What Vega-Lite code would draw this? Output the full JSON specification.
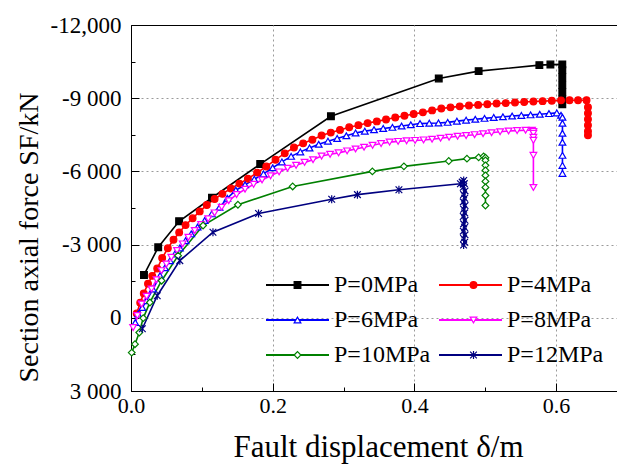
{
"$schema": "https://vega.github.io/schema/vega-lite/v6.json",
"width": 486, "height": 366,
"autosize": {"type": "none"},
"padding": {"left": 131, "top": 25, "right": 0, "bottom": 73},
"background": "white",
"config": {
  "view": {"stroke": "black", "strokeWidth": 1},
  "font": "Liberation Serif",
  "axis": {"domainColor": "black", "domainWidth": 1, "tickColor": "black", "labelColor": "black", "titleColor": "black",
           "labelFont": "Liberation Serif", "titleFont": "Liberation Serif", "titleFontWeight": "normal",
           "gridColor": "#9a9a9a", "gridDash": [2, 3], "gridWidth": 1}
},
"data": {"values": [
{"s":"P=0MPa","p":0,"i":1,"x":0.0183,"y":-1755},{"s":"P=0MPa","p":0,"i":2,"x":0.0384,"y":-2889},{"s":"P=0MPa","p":0,"i":3,"x":0.0679,"y":-3958},{"s":"P=0MPa","p":0,"i":4,"x":0.1143,"y":-4920},{"s":"P=0MPa","p":0,"i":5,"x":0.1824,"y":-6301},{"s":"P=0MPa","p":0,"i":6,"x":0.2822,"y":-8261},{"s":"P=0MPa","p":0,"i":7,"x":0.4344,"y":-9810},{"s":"P=0MPa","p":0,"i":8,"x":0.4907,"y":-10111},{"s":"P=0MPa","p":0,"i":9,"x":0.5764,"y":-10357},{"s":"P=0MPa","p":0,"i":10,"x":0.592,"y":-10378},{"s":"P=0MPa","p":0,"i":11,"x":0.6088,"y":-10386},{"s":"P=0MPa","p":0,"i":12,"x":0.6088,"y":-10150},{"s":"P=0MPa","p":0,"i":13,"x":0.6088,"y":-9860},{"s":"P=0MPa","p":0,"i":14,"x":0.6088,"y":-9540},{"s":"P=0MPa","p":0,"i":15,"x":0.6088,"y":-9250},{"s":"P=0MPa","p":0,"i":16,"x":0.6088,"y":-8950},{"s":"P=0MPa","p":0,"i":17,"x":0.6088,"y":-8750},

{"s":"P=4MPa","p":4,"i":1,"x":0.008,"y":-177},{"s":"P=4MPa","p":4,"i":2,"x":0.013,"y":-620},{"s":"P=4MPa","p":4,"i":3,"x":0.018,"y":-1000},{"s":"P=4MPa","p":4,"i":4,"x":0.024,"y":-1400},{"s":"P=4MPa","p":4,"i":5,"x":0.030,"y":-1720},{"s":"P=4MPa","p":4,"i":6,"x":0.037,"y":-2020},{"s":"P=4MPa","p":4,"i":7,"x":0.044,"y":-2450},{"s":"P=4MPa","p":4,"i":8,"x":0.052,"y":-2850},{"s":"P=4MPa","p":4,"i":9,"x":0.060,"y":-3200},{"s":"P=4MPa","p":4,"i":10,"x":0.068,"y":-3500},{"s":"P=4MPa","p":4,"i":11,"x":0.077,"y":-3800},{"s":"P=4MPa","p":4,"i":12,"x":0.087,"y":-4080},{"s":"P=4MPa","p":4,"i":13,"x":0.097,"y":-4360},{"s":"P=4MPa","p":4,"i":14,"x":0.107,"y":-4620},{"s":"P=4MPa","p":4,"i":15,"x":0.118,"y":-4870},{"s":"P=4MPa","p":4,"i":16,"x":0.129,"y":-5080},{"s":"P=4MPa","p":4,"i":17,"x":0.141,"y":-5300},{"s":"P=4MPa","p":4,"i":18,"x":0.153,"y":-5500},{"s":"P=4MPa","p":4,"i":19,"x":0.165,"y":-5700},{"s":"P=4MPa","p":4,"i":20,"x":0.178,"y":-5950},{"s":"P=4MPa","p":4,"i":21,"x":0.191,"y":-6200},{"s":"P=4MPa","p":4,"i":22,"x":0.204,"y":-6480},{"s":"P=4MPa","p":4,"i":23,"x":0.217,"y":-6740},{"s":"P=4MPa","p":4,"i":24,"x":0.230,"y":-6980},{"s":"P=4MPa","p":4,"i":25,"x":0.243,"y":-7150},{"s":"P=4MPa","p":4,"i":26,"x":0.256,"y":-7300},{"s":"P=4MPa","p":4,"i":27,"x":0.269,"y":-7470},{"s":"P=4MPa","p":4,"i":28,"x":0.282,"y":-7590},{"s":"P=4MPa","p":4,"i":29,"x":0.295,"y":-7700},{"s":"P=4MPa","p":4,"i":30,"x":0.308,"y":-7810},{"s":"P=4MPa","p":4,"i":31,"x":0.321,"y":-7895},{"s":"P=4MPa","p":4,"i":32,"x":0.334,"y":-7980},{"s":"P=4MPa","p":4,"i":33,"x":0.347,"y":-8050},{"s":"P=4MPa","p":4,"i":34,"x":0.360,"y":-8130},{"s":"P=4MPa","p":4,"i":35,"x":0.373,"y":-8210},{"s":"P=4MPa","p":4,"i":36,"x":0.386,"y":-8280},{"s":"P=4MPa","p":4,"i":37,"x":0.399,"y":-8350},{"s":"P=4MPa","p":4,"i":38,"x":0.412,"y":-8420},{"s":"P=4MPa","p":4,"i":39,"x":0.425,"y":-8500},{"s":"P=4MPa","p":4,"i":40,"x":0.438,"y":-8575},{"s":"P=4MPa","p":4,"i":41,"x":0.451,"y":-8625},{"s":"P=4MPa","p":4,"i":42,"x":0.464,"y":-8665},{"s":"P=4MPa","p":4,"i":43,"x":0.477,"y":-8700},{"s":"P=4MPa","p":4,"i":44,"x":0.490,"y":-8725},{"s":"P=4MPa","p":4,"i":45,"x":0.503,"y":-8755},{"s":"P=4MPa","p":4,"i":46,"x":0.516,"y":-8780},{"s":"P=4MPa","p":4,"i":47,"x":0.529,"y":-8800},{"s":"P=4MPa","p":4,"i":48,"x":0.542,"y":-8825},{"s":"P=4MPa","p":4,"i":49,"x":0.555,"y":-8845},{"s":"P=4MPa","p":4,"i":50,"x":0.568,"y":-8862},{"s":"P=4MPa","p":4,"i":51,"x":0.581,"y":-8880},{"s":"P=4MPa","p":4,"i":52,"x":0.594,"y":-8898},{"s":"P=4MPa","p":4,"i":53,"x":0.607,"y":-8912},{"s":"P=4MPa","p":4,"i":54,"x":0.619,"y":-8919},{"s":"P=4MPa","p":4,"i":55,"x":0.631,"y":-8919},{"s":"P=4MPa","p":4,"i":56,"x":0.643,"y":-8919},{"s":"P=4MPa","p":4,"i":57,"x":0.645,"y":-8631},{"s":"P=4MPa","p":4,"i":58,"x":0.645,"y":-8384},{"s":"P=4MPa","p":4,"i":59,"x":0.645,"y":-8138},{"s":"P=4MPa","p":4,"i":60,"x":0.645,"y":-7891},{"s":"P=4MPa","p":4,"i":61,"x":0.645,"y":-7645},{"s":"P=4MPa","p":4,"i":62,"x":0.645,"y":-7480},

{"s":"P=6MPa","p":6,"i":1,"x":0.006,"y":193},{"s":"P=6MPa","p":6,"i":2,"x":0.010,"y":-152},{"s":"P=6MPa","p":6,"i":3,"x":0.016,"y":-420},{"s":"P=6MPa","p":6,"i":4,"x":0.022,"y":-700},{"s":"P=6MPa","p":6,"i":5,"x":0.031,"y":-1180},{"s":"P=6MPa","p":6,"i":6,"x":0.041,"y":-1726},{"s":"P=6MPa","p":6,"i":7,"x":0.048,"y":-2050},{"s":"P=6MPa","p":6,"i":8,"x":0.055,"y":-2343},{"s":"P=6MPa","p":6,"i":9,"x":0.062,"y":-2620},{"s":"P=6MPa","p":6,"i":10,"x":0.069,"y":-2865},{"s":"P=6MPa","p":6,"i":11,"x":0.077,"y":-3160},{"s":"P=6MPa","p":6,"i":12,"x":0.085,"y":-3440},{"s":"P=6MPa","p":6,"i":13,"x":0.094,"y":-3720},{"s":"P=6MPa","p":6,"i":14,"x":0.104,"y":-3987},{"s":"P=6MPa","p":6,"i":15,"x":0.114,"y":-4260},{"s":"P=6MPa","p":6,"i":16,"x":0.125,"y":-4533},{"s":"P=6MPa","p":6,"i":17,"x":0.136,"y":-4900},{"s":"P=6MPa","p":6,"i":18,"x":0.148,"y":-5230},{"s":"P=6MPa","p":6,"i":19,"x":0.161,"y":-5450},{"s":"P=6MPa","p":6,"i":20,"x":0.174,"y":-5680},{"s":"P=6MPa","p":6,"i":21,"x":0.187,"y":-5900},{"s":"P=6MPa","p":6,"i":22,"x":0.200,"y":-6150},{"s":"P=6MPa","p":6,"i":23,"x":0.213,"y":-6390},{"s":"P=6MPa","p":6,"i":24,"x":0.226,"y":-6617},{"s":"P=6MPa","p":6,"i":25,"x":0.239,"y":-6800},{"s":"P=6MPa","p":6,"i":26,"x":0.252,"y":-6960},{"s":"P=6MPa","p":6,"i":27,"x":0.265,"y":-7110},{"s":"P=6MPa","p":6,"i":28,"x":0.278,"y":-7240},{"s":"P=6MPa","p":6,"i":29,"x":0.291,"y":-7350},{"s":"P=6MPa","p":6,"i":30,"x":0.304,"y":-7460},{"s":"P=6MPa","p":6,"i":31,"x":0.317,"y":-7575},{"s":"P=6MPa","p":6,"i":32,"x":0.330,"y":-7650},{"s":"P=6MPa","p":6,"i":33,"x":0.343,"y":-7710},{"s":"P=6MPa","p":6,"i":34,"x":0.356,"y":-7760},{"s":"P=6MPa","p":6,"i":35,"x":0.369,"y":-7805},{"s":"P=6MPa","p":6,"i":36,"x":0.382,"y":-7860},{"s":"P=6MPa","p":6,"i":37,"x":0.395,"y":-7910},{"s":"P=6MPa","p":6,"i":38,"x":0.408,"y":-7960},{"s":"P=6MPa","p":6,"i":39,"x":0.421,"y":-7975},{"s":"P=6MPa","p":6,"i":40,"x":0.434,"y":-7985},{"s":"P=6MPa","p":6,"i":41,"x":0.447,"y":-8010},{"s":"P=6MPa","p":6,"i":42,"x":0.460,"y":-8060},{"s":"P=6MPa","p":6,"i":43,"x":0.473,"y":-8100},{"s":"P=6MPa","p":6,"i":44,"x":0.486,"y":-8138},{"s":"P=6MPa","p":6,"i":45,"x":0.499,"y":-8175},{"s":"P=6MPa","p":6,"i":46,"x":0.512,"y":-8210},{"s":"P=6MPa","p":6,"i":47,"x":0.525,"y":-8240},{"s":"P=6MPa","p":6,"i":48,"x":0.538,"y":-8270},{"s":"P=6MPa","p":6,"i":49,"x":0.551,"y":-8295},{"s":"P=6MPa","p":6,"i":50,"x":0.564,"y":-8318},{"s":"P=6MPa","p":6,"i":51,"x":0.577,"y":-8340},{"s":"P=6MPa","p":6,"i":52,"x":0.590,"y":-8370},{"s":"P=6MPa","p":6,"i":53,"x":0.601,"y":-8397},{"s":"P=6MPa","p":6,"i":54,"x":0.607,"y":-8302},{"s":"P=6MPa","p":6,"i":55,"x":0.609,"y":-8220},{"s":"P=6MPa","p":6,"i":56,"x":0.609,"y":-7973},{"s":"P=6MPa","p":6,"i":57,"x":0.609,"y":-7562},{"s":"P=6MPa","p":6,"i":58,"x":0.609,"y":-7192},{"s":"P=6MPa","p":6,"i":59,"x":0.609,"y":-6658},{"s":"P=6MPa","p":6,"i":60,"x":0.609,"y":-6247},{"s":"P=6MPa","p":6,"i":61,"x":0.609,"y":-5919},

{"s":"P=8MPa","p":8,"i":1,"x":0.003,"y":399},{"s":"P=8MPa","p":8,"i":2,"x":0.009,"y":-90},{"s":"P=8MPa","p":8,"i":3,"x":0.015,"y":-563},{"s":"P=8MPa","p":8,"i":4,"x":0.022,"y":-880},{"s":"P=8MPa","p":8,"i":5,"x":0.029,"y":-1180},{"s":"P=8MPa","p":8,"i":6,"x":0.036,"y":-1560},{"s":"P=8MPa","p":8,"i":7,"x":0.043,"y":-1932},{"s":"P=8MPa","p":8,"i":8,"x":0.050,"y":-2200},{"s":"P=8MPa","p":8,"i":9,"x":0.057,"y":-2478},{"s":"P=8MPa","p":8,"i":10,"x":0.065,"y":-2760},{"s":"P=8MPa","p":8,"i":11,"x":0.073,"y":-3029},{"s":"P=8MPa","p":8,"i":12,"x":0.081,"y":-3300},{"s":"P=8MPa","p":8,"i":13,"x":0.090,"y":-3576},{"s":"P=8MPa","p":8,"i":14,"x":0.099,"y":-3820},{"s":"P=8MPa","p":8,"i":15,"x":0.109,"y":-4057},{"s":"P=8MPa","p":8,"i":16,"x":0.118,"y":-4300},{"s":"P=8MPa","p":8,"i":17,"x":0.128,"y":-4533},{"s":"P=8MPa","p":8,"i":18,"x":0.138,"y":-4800},{"s":"P=8MPa","p":8,"i":19,"x":0.149,"y":-5050},{"s":"P=8MPa","p":8,"i":20,"x":0.161,"y":-5270},{"s":"P=8MPa","p":8,"i":21,"x":0.173,"y":-5470},{"s":"P=8MPa","p":8,"i":22,"x":0.185,"y":-5650},{"s":"P=8MPa","p":8,"i":23,"x":0.197,"y":-5820},{"s":"P=8MPa","p":8,"i":24,"x":0.209,"y":-5980},{"s":"P=8MPa","p":8,"i":25,"x":0.221,"y":-6130},{"s":"P=8MPa","p":8,"i":26,"x":0.233,"y":-6250},{"s":"P=8MPa","p":8,"i":27,"x":0.245,"y":-6370},{"s":"P=8MPa","p":8,"i":28,"x":0.257,"y":-6480},{"s":"P=8MPa","p":8,"i":29,"x":0.269,"y":-6630},{"s":"P=8MPa","p":8,"i":30,"x":0.281,"y":-6700},{"s":"P=8MPa","p":8,"i":31,"x":0.293,"y":-6760},{"s":"P=8MPa","p":8,"i":32,"x":0.305,"y":-6840},{"s":"P=8MPa","p":8,"i":33,"x":0.317,"y":-6920},{"s":"P=8MPa","p":8,"i":34,"x":0.329,"y":-6990},{"s":"P=8MPa","p":8,"i":35,"x":0.341,"y":-7070},{"s":"P=8MPa","p":8,"i":36,"x":0.353,"y":-7140},{"s":"P=8MPa","p":8,"i":37,"x":0.365,"y":-7200},{"s":"P=8MPa","p":8,"i":38,"x":0.377,"y":-7230},{"s":"P=8MPa","p":8,"i":39,"x":0.389,"y":-7255},{"s":"P=8MPa","p":8,"i":40,"x":0.401,"y":-7270},{"s":"P=8MPa","p":8,"i":41,"x":0.413,"y":-7290},{"s":"P=8MPa","p":8,"i":42,"x":0.425,"y":-7320},{"s":"P=8MPa","p":8,"i":43,"x":0.437,"y":-7360},{"s":"P=8MPa","p":8,"i":44,"x":0.449,"y":-7400},{"s":"P=8MPa","p":8,"i":45,"x":0.461,"y":-7440},{"s":"P=8MPa","p":8,"i":46,"x":0.473,"y":-7470},{"s":"P=8MPa","p":8,"i":47,"x":0.485,"y":-7505},{"s":"P=8MPa","p":8,"i":48,"x":0.497,"y":-7545},{"s":"P=8MPa","p":8,"i":49,"x":0.509,"y":-7585},{"s":"P=8MPa","p":8,"i":50,"x":0.521,"y":-7625},{"s":"P=8MPa","p":8,"i":51,"x":0.533,"y":-7657},{"s":"P=8MPa","p":8,"i":52,"x":0.545,"y":-7672},{"s":"P=8MPa","p":8,"i":53,"x":0.557,"y":-7686},{"s":"P=8MPa","p":8,"i":54,"x":0.566,"y":-7686},{"s":"P=8MPa","p":8,"i":55,"x":0.568,"y":-7640},{"s":"P=8MPa","p":8,"i":56,"x":0.568,"y":-7562},{"s":"P=8MPa","p":8,"i":57,"x":0.568,"y":-7398},{"s":"P=8MPa","p":8,"i":58,"x":0.568,"y":-7275},{"s":"P=8MPa","p":8,"i":59,"x":0.568,"y":-6658},{"s":"P=8MPa","p":8,"i":60,"x":0.568,"y":-5343},

{"s":"P=10MPa","p":10,"i":1,"x":0.001,"y":1426},{"s":"P=10MPa","p":10,"i":2,"x":0.0056,"y":1081},{"s":"P=10MPa","p":10,"i":3,"x":0.0117,"y":604},{"s":"P=10MPa","p":10,"i":4,"x":0.0173,"y":12},{"s":"P=10MPa","p":10,"i":5,"x":0.0267,"y":-629},{"s":"P=10MPa","p":10,"i":6,"x":0.0432,"y":-1521},{"s":"P=10MPa","p":10,"i":7,"x":0.0665,"y":-2548},{"s":"P=10MPa","p":10,"i":8,"x":0.1017,"y":-3781},{"s":"P=10MPa","p":10,"i":9,"x":0.1509,"y":-4632},{"s":"P=10MPa","p":10,"i":10,"x":0.2282,"y":-5384},{"s":"P=10MPa","p":10,"i":11,"x":0.3407,"y":-6001},{"s":"P=10MPa","p":10,"i":12,"x":0.3852,"y":-6206},{"s":"P=10MPa","p":10,"i":13,"x":0.4485,"y":-6424},{"s":"P=10MPa","p":10,"i":14,"x":0.4742,"y":-6522},{"s":"P=10MPa","p":10,"i":15,"x":0.4907,"y":-6576},{"s":"P=10MPa","p":10,"i":16,"x":0.4977,"y":-6617},{"s":"P=10MPa","p":10,"i":17,"x":0.5003,"y":-6560},{"s":"P=10MPa","p":10,"i":18,"x":0.5003,"y":-6453},{"s":"P=10MPa","p":10,"i":19,"x":0.5003,"y":-6247},{"s":"P=10MPa","p":10,"i":20,"x":0.5003,"y":-6042},{"s":"P=10MPa","p":10,"i":21,"x":0.5003,"y":-5836},{"s":"P=10MPa","p":10,"i":22,"x":0.5003,"y":-5590},{"s":"P=10MPa","p":10,"i":23,"x":0.5003,"y":-5343},{"s":"P=10MPa","p":10,"i":24,"x":0.5003,"y":-5014},{"s":"P=10MPa","p":10,"i":25,"x":0.5003,"y":-4603},

{"s":"P=12MPa","p":12,"i":1,"x":0.016,"y":450},{"s":"P=12MPa","p":12,"i":2,"x":0.037,"y":-904},{"s":"P=12MPa","p":12,"i":3,"x":0.0689,"y":-2343},{"s":"P=12MPa","p":12,"i":4,"x":0.1157,"y":-3506},{"s":"P=12MPa","p":12,"i":5,"x":0.18,"y":-4274},{"s":"P=12MPa","p":12,"i":6,"x":0.2833,"y":-4858},{"s":"P=12MPa","p":12,"i":7,"x":0.3196,"y":-5047},{"s":"P=12MPa","p":12,"i":8,"x":0.3782,"y":-5248},{"s":"P=12MPa","p":12,"i":9,"x":0.465,"y":-5495},{"s":"P=12MPa","p":12,"i":10,"x":0.4675,"y":-5560},{"s":"P=12MPa","p":12,"i":11,"x":0.4696,"y":-5631},{"s":"P=12MPa","p":12,"i":12,"x":0.4705,"y":-5500},{"s":"P=12MPa","p":12,"i":13,"x":0.469,"y":-5350},{"s":"P=12MPa","p":12,"i":14,"x":0.4715,"y":-5200},{"s":"P=12MPa","p":12,"i":15,"x":0.4695,"y":-5050},{"s":"P=12MPa","p":12,"i":16,"x":0.471,"y":-4900},{"s":"P=12MPa","p":12,"i":17,"x":0.469,"y":-4750},{"s":"P=12MPa","p":12,"i":18,"x":0.4715,"y":-4600},{"s":"P=12MPa","p":12,"i":19,"x":0.4695,"y":-4450},{"s":"P=12MPa","p":12,"i":20,"x":0.471,"y":-4300},{"s":"P=12MPa","p":12,"i":21,"x":0.469,"y":-4150},{"s":"P=12MPa","p":12,"i":22,"x":0.4715,"y":-4000},{"s":"P=12MPa","p":12,"i":23,"x":0.4695,"y":-3850},{"s":"P=12MPa","p":12,"i":24,"x":0.471,"y":-3700},{"s":"P=12MPa","p":12,"i":25,"x":0.469,"y":-3550},{"s":"P=12MPa","p":12,"i":26,"x":0.4715,"y":-3400},{"s":"P=12MPa","p":12,"i":27,"x":0.4695,"y":-3250},{"s":"P=12MPa","p":12,"i":28,"x":0.471,"y":-3100},{"s":"P=12MPa","p":12,"i":29,"x":0.4695,"y":-2980}
]},
"resolve": {"axis": {"x": "independent", "y": "independent"}},
"layer": [
  {
    "mark": {"type": "line", "strokeWidth": 1.6},
    "encoding": {
      "x": {"field": "x", "type": "quantitative", "scale": {"domain": [0, 0.686], "nice": false, "zero": false},
            "axis": {"orient": "bottom", "values": [0.1, 0.3, 0.5], "labels": false, "grid": false, "domain": false, "title": null, "tickSize": -4}},
      "y": {"field": "y", "type": "quantitative", "scale": {"domain": [-12000, 3000], "reverse": true, "nice": false, "zero": false},
            "axis": {"orient": "left", "values": [-10500, -7500, -4500, -1500, 1500], "labels": false, "grid": false, "domain": false, "title": null, "tickSize": -4}},
      "stroke": {"field": "s", "type": "nominal",
                 "scale": {"domain": ["P=0MPa", "P=6MPa", "P=10MPa", "P=4MPa", "P=8MPa", "P=12MPa"],
                           "range": ["#000000", "#0000ff", "#008000", "#ff0000", "#ff00ff", "#000080"]},
                 "legend": {"title": null, "orient": "none", "legendX": 134, "legendY": 248, "columns": 2, "clipHeight": 24,
                            "symbolType": "stroke", "symbolSize": 3969, "symbolStrokeWidth": 2,
                            "labelFont": "Liberation Serif", "labelFontSize": 24, "labelColor": "black", "labelOffset": 4,
                            "labelLimit": 300, "rowPadding": 11, "columnPadding": 7, "padding": 0}},
      "order": {"field": "i", "type": "quantitative"}
    }
  },
  {
    "mark": {"type": "point", "filled": false, "size": 45, "strokeWidth": 1.2, "opacity": 1},
    "encoding": {
      "x": {"field": "x", "type": "quantitative",
            "axis": {"orient": "bottom", "values": [0, 0.2, 0.4, 0.6], "format": ".1f", "tickSize": -8, "labelPadding": 12,
                     "labelFontSize": 22, "labelFlush": false, "grid": true,
                     "gridOpacity": {"condition": {"test": "datum.value == 0", "value": 0}, "value": 1},
                     "title": "Fault displacement δ/m", "titleFontSize": 31, "titleX": 247, "titleY": 65, "titleBaseline": "alphabetic"}},
      "y": {"field": "y", "type": "quantitative",
            "axis": {"orient": "left", "values": [-12000, -9000, -6000, -3000, 0, 3000], "tickSize": -8, "labelPadding": 18,
                     "labelFontSize": 23, "labelFlush": false,
                     "labelExpr": "datum.value == -12000 ? '-12,000' : datum.value == -9000 ? '-9 000' : datum.value == -6000 ? '-6 000' : datum.value == -3000 ? '-3 000' : datum.value == 0 ? '0' : '3 000'",
                     "grid": true,
                     "gridOpacity": {"condition": {"test": "datum.value == -12000 || datum.value == 3000", "value": 0}, "value": 1},
                     "title": "Section axial force SF/kN", "titleFontSize": 28, "titleX": -94, "titleY": 212, "titleAngle": -90, "titleAlign": "center", "titleBaseline": "alphabetic"}},
      "color": {"field": "p", "type": "nominal",
                "scale": {"domain": [0, 6, 10, 4, 8, 12], "range": ["#000000", "#0000ff", "#008000", "#ff0000", "#ff00ff", "#000080"]},
                "legend": {"title": null, "orient": "none", "legendX": 134, "legendY": 248, "columns": 2, "clipHeight": 24,
                           "symbolSize": 45, "symbolStrokeWidth": 1.2, "symbolOffset": 20.5,
                           "labelFontSize": 24, "labelOffset": 45, "labelExpr": "''",
                           "rowPadding": 11, "columnPadding": 86, "padding": 0}},
      "fill": {"field": "p", "type": "nominal",
               "scale": {"domain": [0, 6, 10, 4, 8, 12], "range": ["#000000", "#ffffff", "#ffffff", "#ff0000", "#ffffff", "#ffffff"]},
               "legend": {"title": null, "orient": "none", "legendX": 134, "legendY": 248, "columns": 2, "clipHeight": 24,
                           "symbolSize": 45, "symbolStrokeWidth": 1.2, "symbolOffset": 20.5,
                           "labelFontSize": 24, "labelOffset": 45, "labelExpr": "''",
                           "rowPadding": 11, "columnPadding": 86, "padding": 0}},
      "shape": {"field": "p", "type": "nominal",
                "scale": {"domain": [0, 6, 10, 4, 8, 12], "range": ["square", "triangle-up", "diamond", "circle", "triangle-down", "M-1,-1L1,1M-1,1L1,-1M0,-1.2L0,1.2"]},
                "legend": {"title": null, "orient": "none", "legendX": 134, "legendY": 248, "columns": 2, "clipHeight": 24,
                           "symbolSize": 45, "symbolStrokeWidth": 1.2, "symbolOffset": 20.5,
                           "labelFontSize": 24, "labelOffset": 45, "labelExpr": "''",
                           "rowPadding": 11, "columnPadding": 86, "padding": 0}}
    }
  }
]
}
